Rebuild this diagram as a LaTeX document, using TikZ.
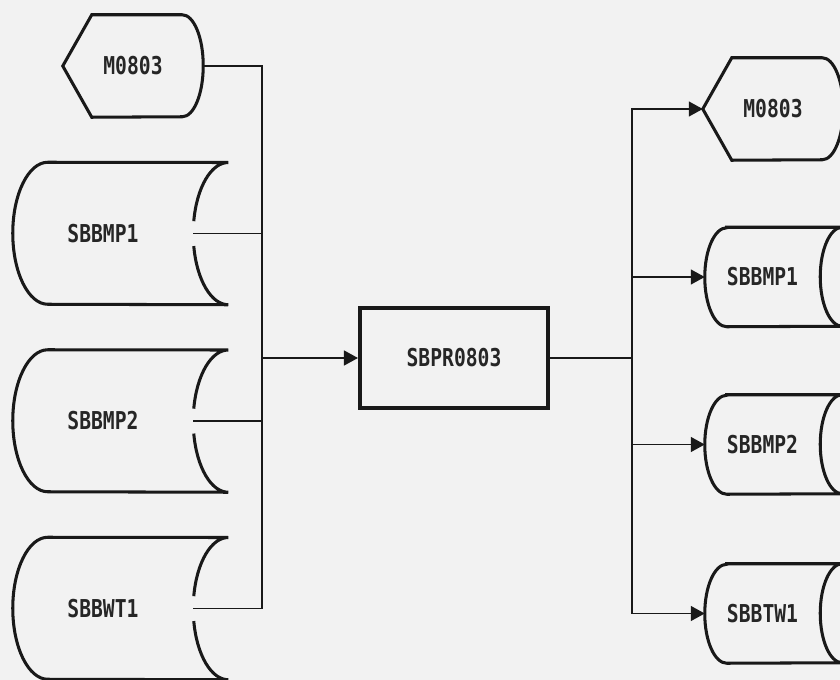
\documentclass[tikz,border=0pt]{standalone}
\usepackage{fontspec}
\newfontfamily\dotfont{DejaVu Sans Mono}[FakeStretch=0.8]
\usetikzlibrary{arrows.meta, calc}

% stored-data outline round node #1 (#2 = arc depth, #3 = half height)
\newcommand{\storeoutline}[3]{%
  \draw[outline] ($(#1.north west)+(#2,0)$) -- ($(#1.north east)+(#2,0)$)
    arc[start angle=90, end angle=270, x radius=#2, y radius=#3]
    -- ($(#1.south west)+(#2,0)$)
    arc[start angle=270, end angle=90, x radius=#2, y radius=#3] -- cycle;
}
% same, with a gap where the line leaves on the right
\newcommand{\storeoutlinegap}[3]{%
  \draw[outline] ($(#1.east)+(#2,0)$) ++(170:#2 and #3)
    arc[start angle=170, end angle=90, x radius=#2, y radius=#3]
    -- ($(#1.north west)+(#2,0)$)
    arc[start angle=90, end angle=270, x radius=#2, y radius=#3]
    -- ($(#1.south east)+(#2,0)$)
    arc[start angle=270, end angle=190, x radius=#2, y radius=#3];
}
% display outline (#2 = point depth, #3 = bulge, #4 = half height)
\newcommand{\dispoutline}[4]{%
  \draw[outline] (#1.west) -- ($(#1.north west)+(#2,0)$)
    -- ($(#1.north east)+(-#3,0)$)
    arc[start angle=90, end angle=-90, x radius=#3, y radius=#4]
    -- ($(#1.south west)+(#2,0)$) -- cycle;
}

\begin{document}
\begin{tikzpicture}[x=0.03cm, y=0.03cm,
    label/.style={rectangle, inner sep=0pt, text=black!85,
                  font=\dotfont\bfseries\fontsize{21}{24}\selectfont},
    display/.style={label, minimum width=4.2cm, minimum height=3.06cm},
    storeL/.style={label, minimum width=5.4cm, minimum height=4.26cm},
    storeR/.style={label, minimum width=3.45cm, minimum height=2.97cm},
    process/.style={label, draw=black!90, line width=3.5pt,
                    minimum width=5.64cm, minimum height=3cm},
    outline/.style={draw=black!90, line width=2.6pt},
    conn/.style={draw=black!90, line width=1.2pt},
    arrow/.style={conn, -{Triangle[length=0.42cm, width=0.45cm]}}]

    \fill[black!5] (0,0) rectangle (840,-680);
    \useasboundingbox (0,0) rectangle (840,-680);

    % inputs (left)
    \node[display] (dispL) at (133,-66) {M0803};
    \node[storeL] (mp1L) at (103,-233.5) {SBBMP1};
    \node[storeL] (mp2L) at (103,-421) {SBBMP2};
    \node[storeL] (wt1L) at (103,-608.5) {SBBWT1};
    \dispoutline{dispL}{29}{21}{51}
    \storeoutlinegap{mp1L}{35}{71}
    \storeoutlinegap{mp2L}{35}{71}
    \storeoutlinegap{wt1L}{35}{71}

    % program
    \node[process] (prog) at (454,-358) {SBPR0803};

    % outputs (right)
    \node[display] (dispR) at (773,-109) {M0803};
    \node[storeR] (mp1R) at (762.5,-277) {SBBMP1};
    \node[storeR] (mp2R) at (762.5,-444.5) {SBBMP2};
    \node[storeR] (tw1R) at (762.5,-613.5) {SBBTW1};
    \dispoutline{dispR}{29}{21}{51}
    \storeoutline{mp1R}{22}{49.5}
    \storeoutline{mp2R}{22}{49.5}
    \storeoutline{tw1R}{22}{49.5}

    % connections
    \coordinate (busL) at (262,-358);
    \coordinate (busR) at (632,-358);
    \draw[conn] (dispL.east) -| (busL);
    \draw[conn] (mp1L.east) -| (busL);
    \draw[conn] (mp2L.east) -| (busL);
    \draw[conn] (wt1L.east) -| (busL);
    \draw[arrow] (busL) -- (prog);
    \draw[conn] (prog) -- (busR);
    \draw[arrow] (busR) |- (dispR.west);
    \draw[arrow] (busR) |- (mp1R.west);
    \draw[arrow] (busR) |- (mp2R.west);
    \draw[arrow] (busR) |- (tw1R.west);

\end{tikzpicture}
\end{document}
